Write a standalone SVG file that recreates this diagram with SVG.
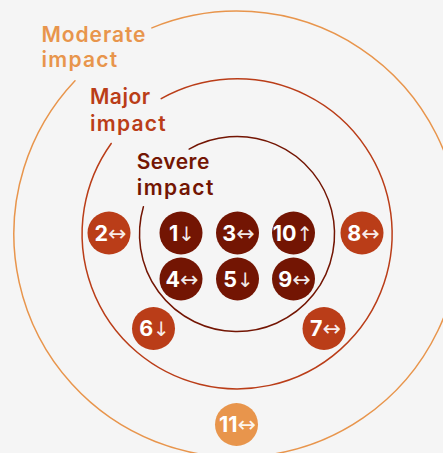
<svg xmlns="http://www.w3.org/2000/svg" width="443" height="453" viewBox="0 0 443 453">
<style>
.ring{fill:none;stroke-width:1.5;stroke-linecap:round}
.lbl{font-family:Inter,"Open Sans","Liberation Sans",sans-serif;font-weight:600;font-size:21px}
.bt{font-family:Inter,"Open Sans","Liberation Sans",sans-serif;font-weight:700;font-size:21.5px;fill:#fff;text-anchor:middle}
.ar{font-family:"DejaVu Sans",sans-serif;font-weight:400;font-size:20px;fill:#fff;fill-opacity:0.92}
.ah{font-family:"DejaVu Sans",sans-serif;font-weight:400;font-size:22px;fill:#fff;fill-opacity:0.92}
.sev{fill:#731503}
.maj{fill:#BA3D18}
.mod{fill:#E8954C}
</style>
<rect width="443" height="453" fill="#F5F5F5"/>
<g id="rings">
<path id="ring-moderate" class="ring" stroke="#E8954C" d="M151.9,27.9 A223,223 0 1 1 75,80.7"/>
<path id="ring-major" class="ring" stroke="#BA3D18" d="M161.2,98.7 A155,155 0 1 1 111.2,143.45"/>
<path id="ring-severe" class="ring" stroke="#731503" d="M189.15,149.05 A97.5,97.5 0 1 1 143.4,206.73"/>
</g>
<g id="labels">
<text id="label-moderate" class="lbl mod"><tspan x="41.5" y="41.7" textLength="104" lengthAdjust="spacing">Moderate</tspan><tspan x="41.5" y="66.7" textLength="75.6" lengthAdjust="spacing">impact</tspan></text>
<text id="label-major" class="lbl maj"><tspan x="90" y="104.3" textLength="60" lengthAdjust="spacing">Major</tspan><tspan x="90" y="130.5" textLength="75.7" lengthAdjust="spacing">impact</tspan></text>
<text id="label-severe" class="lbl sev"><tspan x="136.7" y="169" textLength="72.6" lengthAdjust="spacing">Severe</tspan><tspan x="136.7" y="195" textLength="76.6" lengthAdjust="spacing">impact</tspan></text>
</g>
<g id="node-1"><circle class="sev" cx="181" cy="233" r="21.5"/><text class="bt" x="182" y="240.5">1<tspan class="ar">↓</tspan></text></g>
<g id="node-3"><circle class="sev" cx="237.5" cy="233" r="21.5"/><text class="bt" x="238.5" y="240.5">3<tspan class="ah">↔</tspan></text></g>
<g id="node-10"><circle class="sev" cx="293.5" cy="233" r="21.5"/><text class="bt" x="293" y="240.5">10<tspan class="ar">↑</tspan></text></g>
<g id="node-4"><circle class="sev" cx="181" cy="279" r="21.5"/><text class="bt" x="182" y="286.5">4<tspan class="ah">↔</tspan></text></g>
<g id="node-5"><circle class="sev" cx="237.5" cy="279" r="21.5"/><text class="bt" x="238.5" y="286.5">5<tspan class="ar">↓</tspan></text></g>
<g id="node-9"><circle class="sev" cx="293.5" cy="279" r="21.5"/><text class="bt" x="294.5" y="286.5">9<tspan class="ah">↔</tspan></text></g>
<g id="node-2"><circle class="maj" cx="109" cy="233" r="21.5"/><text class="bt" x="110.5" y="240.5">2<tspan class="ah">↔</tspan></text></g>
<g id="node-8"><circle class="maj" cx="362" cy="233" r="21.5"/><text class="bt" x="363.5" y="240.5">8<tspan class="ah">↔</tspan></text></g>
<g id="node-6"><circle class="maj" cx="153.5" cy="328.5" r="21.5"/><text class="bt" x="154.5" y="336">6<tspan class="ar">↓</tspan></text></g>
<g id="node-7"><circle class="maj" cx="324" cy="328.5" r="21.5"/><text class="bt" x="325.5" y="336">7<tspan class="ah">↔</tspan></text></g>
<g id="node-11"><circle class="mod" cx="236.5" cy="424.5" r="21.5"/><text class="bt" x="237.5" y="432">11<tspan class="ah">↔</tspan></text></g>
<g id="connectors"/>
</svg>
